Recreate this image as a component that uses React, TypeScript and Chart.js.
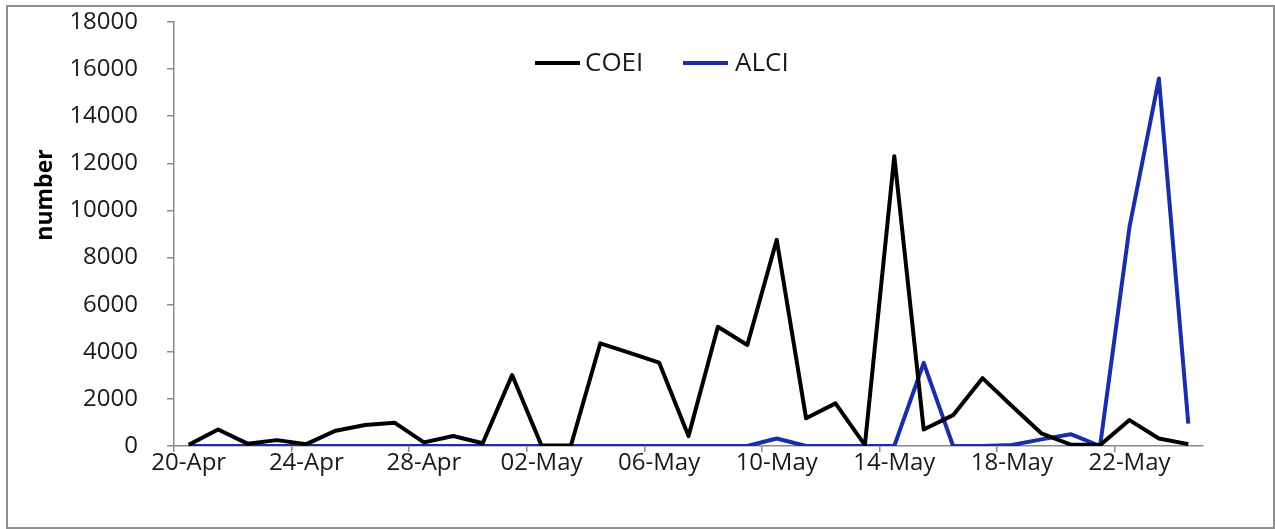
import React, { useEffect, useRef } from "react";
import { Chart, registerables } from "chart.js";

Chart.register(...registerables);

const dates = [
  "20-Apr", "21-Apr", "22-Apr", "23-Apr", "24-Apr", "25-Apr", "26-Apr", "27-Apr", "28-Apr", "29-Apr", "30-Apr",
  "01-May", "02-May", "03-May", "04-May", "05-May", "06-May", "07-May", "08-May", "09-May", "10-May",
  "11-May", "12-May", "13-May", "14-May", "15-May", "16-May", "17-May", "18-May", "19-May", "20-May",
  "21-May", "22-May", "23-May", "24-May",
];

const coei = [
  50, 700, 100, 250, 80, 650, 890, 990, 155, 425, 115,
  3010, 20, 20, 4360, 3950, 3540, 420, 5060, 4290, 8750,
  1175, 1810, 40, 12300, 700, 1310, 2880, 1700, 540, 60,
  40, 1100, 320, 80,
];

const alci = [
  0, 0, 0, 0, 0, 0, 0, 0, 0, 0, 0,
  0, 0, 0, 0, 0, 0, 0, 0, 0, 320,
  0, 0, 0, 0, 3530, 0, 0, 40, 280, 500,
  0, 9300, 15600, 950,
];

const yTicks = { min: 0, max: 18000, step: 2000 };
const tickEvery = 4;
const yTitle = "number";

const FONT = "'Open Sans', 'DejaVu Sans', sans-serif";

const legendPlugin = {
  id: "insideLegend",
  afterDraw(chart: any) {
    const ctx = chart.ctx;
    const items = [
      { x: 535, textX: 585 },
      { x: 683, textX: 735 },
    ];
    const y = 63;
    ctx.save();
    chart.data.datasets.forEach((ds: any, i: number) => {
      const it = items[i];
      ctx.strokeStyle = ds.borderColor;
      ctx.lineWidth = 4;
      ctx.beginPath();
      ctx.moveTo(it.x, y);
      ctx.lineTo(it.x + 45, y);
      ctx.stroke();
      ctx.fillStyle = "#1a1a1a";
      ctx.font = `26px ${FONT}`;
      ctx.textBaseline = "middle";
      ctx.textAlign = "left";
      ctx.fillText(ds.label, it.textX, y + 1);
    });
    // y-axis title
    ctx.translate(45, 195);
    ctx.rotate(-Math.PI / 2);
    ctx.fillStyle = "#000000";
    ctx.font = `bold 23px ${FONT}`;
    ctx.textAlign = "center";
    ctx.textBaseline = "middle";
    ctx.fillText(yTitle, 0, 0);
    ctx.restore();
  },
};

export default function App() {
  const ref = useRef<HTMLCanvasElement | null>(null);

  useEffect(() => {
    if (!ref.current) return;
    const chart = new Chart(ref.current, {
      type: "line",
      data: {
        labels: dates,
        datasets: [
          {
            label: "COEI",
            data: coei,
            borderColor: "#000000",
            backgroundColor: "#000000",
            borderWidth: 4,
            borderJoinStyle: "round",
            pointRadius: 0,
            tension: 0,
          },
          {
            label: "ALCI",
            data: alci,
            borderColor: "#1a2eaa",
            backgroundColor: "#1a2eaa",
            borderWidth: 4,
            borderJoinStyle: "round",
            pointRadius: 0,
            tension: 0,
          },
        ],
      },
      options: {
        responsive: false,
        animation: false,
        layout: { padding: { top: 22, right: 72, bottom: 0, left: 0 } },
        plugins: {
          legend: { display: false },
          tooltip: { enabled: false },
        },
        scales: {
          x: {
            type: "category",
            offset: true,
            afterFit: (scale: any) => {
              scale.height = 83;
              scale.paddingLeft = 0;
              scale.paddingRight = 0;
            },
            border: { display: true, color: "#8a8a8a", width: 1.5 },
            grid: {
              offset: true,
              drawOnChartArea: false,
              drawTicks: true,
              tickLength: 6,
              color: (c: any) => (c.index % tickEvery === 0 ? "#8a8a8a" : "rgba(0,0,0,0)"),
              lineWidth: 1.5,
            },
            ticks: {
              autoSkip: false,
              maxRotation: 0,
              minRotation: 0,
              padding: -3,
              color: "#1a1a1a",
              font: { family: FONT, size: 24 },
              callback: function (this: any, value: any, index: number) {
                return index % tickEvery === 0 ? this.getLabelForValue(value) : "";
              },
            },
          },
          y: {
            min: yTicks.min,
            max: yTicks.max,
            afterFit: (scale: any) => {
              scale.width = 174;
              scale.paddingTop = 0;
              scale.paddingBottom = 0;
            },
            border: { display: true, color: "#8a8a8a", width: 1.5 },
            grid: {
              drawOnChartArea: false,
              drawTicks: true,
              tickLength: 7,
              color: "#8a8a8a",
              lineWidth: 1.5,
            },
            ticks: {
              stepSize: yTicks.step,
              padding: 29,
              color: "#1a1a1a",
              font: { family: FONT, size: 24 },
              callback: (value: any) => String(value),
            },
            title: { display: false },
          },
        },
      },
      plugins: [legendPlugin],
    });
    return () => chart.destroy();
  }, []);

  return (
    <div style={{ position: "fixed", left: 0, top: 0, width: 1275, height: 529, background: "#ffffff" }}>
      <div
        style={{
          position: "absolute",
          left: 6,
          top: 5,
          width: 1265,
          height: 520,
          border: "2px solid #8f8f8f",
          boxSizing: "content-box",
        }}
      />
      <canvas ref={ref} width={1275} height={529} style={{ position: "absolute", left: 0, top: 0 }} />
    </div>
  );
}
